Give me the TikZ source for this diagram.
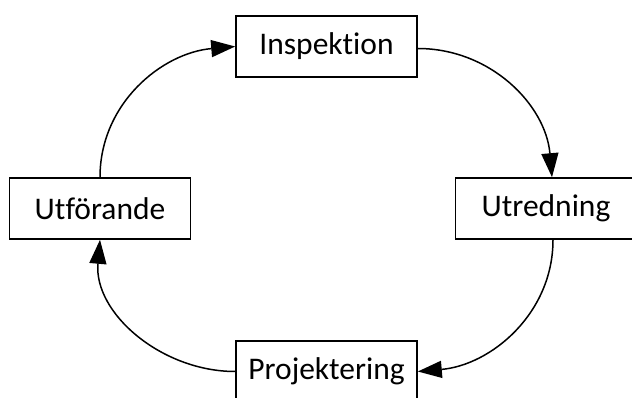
\documentclass[tikz,border=0pt]{standalone}
\usepackage{fontspec}
\setmainfont[Ligatures={NoCommon}]{Carlito}
\usetikzlibrary{arrows.meta}
\begin{document}
\begin{tikzpicture}[x=1pt,y=-1pt,
  box/.style={draw,line width=1.6pt,minimum width=181pt,minimum height=61pt,inner sep=0pt,font=\fontsize{31.5}{36}\selectfont},
  conn/.style={line width=1.5pt,-{Triangle[length=24pt,width=17pt]}}]
\useasboundingbox (0,0) rectangle (632,398);
\node[box] (insp) at (326.5,46.5) {Inspektion};
\node[box] (utr) at (546,208.5) {Utredning};
\node[box] (utf) at (100,208.5) {Utförande};
\node[box] (proj) at (326.5,371.5) {Projektering};
\draw[conn] ([yshift=-2pt]insp.east) to[out=0,in=95] ([xshift=6pt]utr.north);
\draw[conn] ([xshift=7pt]utr.south) to[out=-90,in=5] (proj.east);
\draw[conn] (proj.west) to[out=180,in=-95] (utf.south);
\draw[conn] (utf.north) to[out=90,in=185] (insp.west);
\end{tikzpicture}
\end{document}
